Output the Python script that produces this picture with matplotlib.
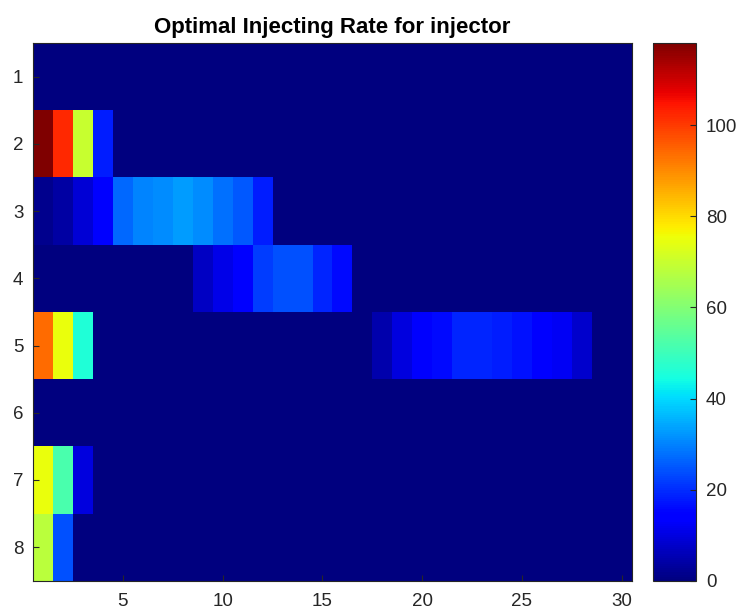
import numpy as np
import matplotlib.pyplot as plt

plt.rcParams['font.family'] = ['Liberation Sans', 'DejaVu Sans']

# injection rate per injector (rows) and time step (columns)
n_steps = 30
injectors = [1, 2, 3, 4, 5, 6, 7, 8]

rate_1 = [0.0] * n_steps
rate_2 = [118, 102, 70, 18] + [0.0] * 26
rate_3 = [1.5, 4, 9, 15, 27, 30, 31, 33, 31, 28, 25, 18] + [0.0] * 18
rate_4 = [0.0] * 8 + [7, 11, 15, 22, 24, 24, 19, 16] + [0.0] * 14
rate_5 = [94, 75, 46] + [0.0] * 14 + [5, 10, 13, 16, 19, 19, 18, 17, 15, 12, 8] + [0.0] * 2
rate_6 = [0.0] * n_steps
rate_7 = [75, 52, 10] + [0.0] * 27
rate_8 = [68, 24] + [0.0] * 28

rates = np.array([rate_1, rate_2, rate_3, rate_4, rate_5, rate_6, rate_7, rate_8])

fig = plt.figure(figsize=(7.39, 6.14), dpi=100)
ax = fig.add_axes([0.0447, 0.054, 0.81, 0.876])
cax = fig.add_axes([0.8835, 0.054, 0.0585, 0.876])

im = ax.imshow(rates, cmap='jet', aspect='auto', interpolation='nearest',
               extent=[0.5, n_steps + 0.5, len(injectors) + 0.5, 0.5],
               vmin=rates.min(), vmax=rates.max())

ax.set_xticks([5, 10, 15, 20, 25, 30])
ax.set_yticks(injectors)
ax.tick_params(direction='in', length=4, labelsize=13.5, colors='#262626',
               top=False, right=False)
ax.tick_params(axis='x', pad=9)
ax.tick_params(axis='y', pad=7)
for s in ax.spines.values():
    s.set_color('#262626')
    s.set_linewidth(0.8)
ax.set_title('Optimal Injecting Rate for injector', fontsize=16,
             fontweight='bold', pad=7)

cb = fig.colorbar(im, cax=cax)
cb.set_ticks([0, 20, 40, 60, 80, 100])
cb.ax.tick_params(direction='in', length=4, labelsize=13.5, colors='#262626', pad=7)
cb.outline.set_edgecolor('#262626')
cb.outline.set_linewidth(0.8)

fig.savefig('out.png', dpi=100)
